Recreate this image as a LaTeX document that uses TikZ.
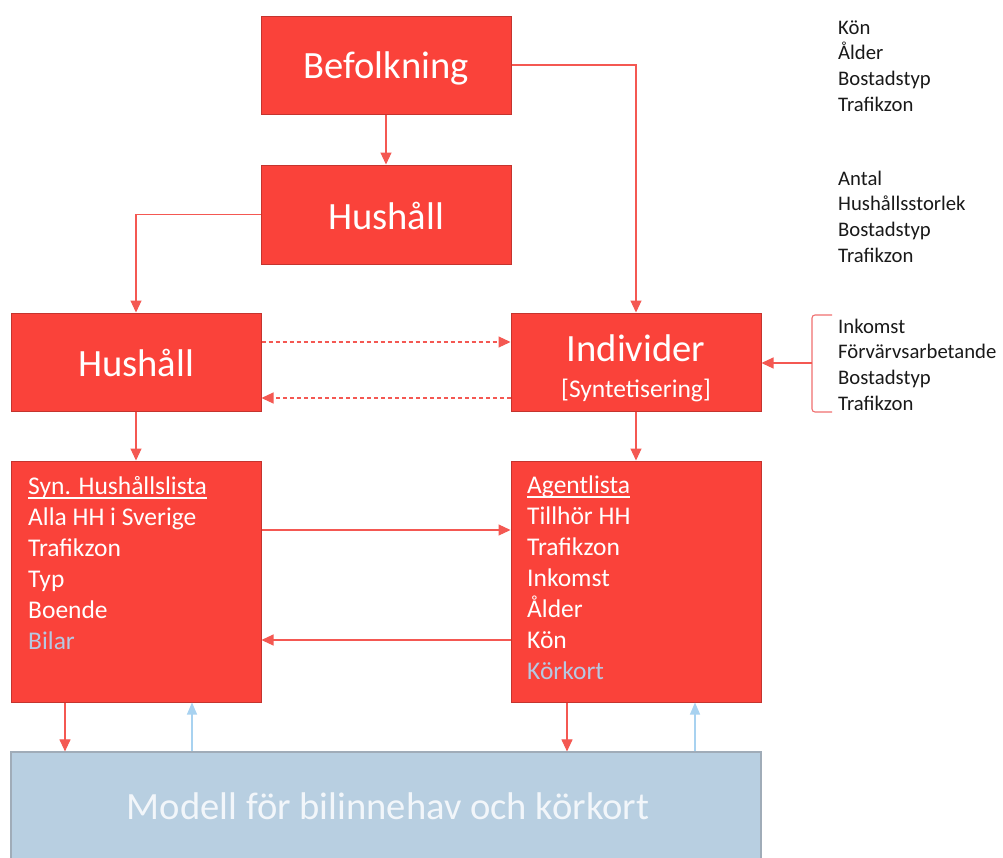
\documentclass[tikz,border=0pt]{standalone}
\usepackage{fontspec}
\setmainfont{Carlito}
\usetikzlibrary{arrows.meta}
\definecolor{boxred}{RGB}{250,66,58}
\definecolor{boxedge}{RGB}{196,52,46}
\definecolor{linered}{RGB}{244,88,82}
\definecolor{bracketred}{RGB}{240,112,112}
\definecolor{modelblue}{RGB}{184,207,225}
\definecolor{modeledge}{RGB}{160,172,184}
\definecolor{arrowblue}{RGB}{168,210,240}
\definecolor{softblue}{RGB}{182,200,226}
\definecolor{darktext}{RGB}{25,25,25}
\definecolor{modeltext}{RGB}{242,246,250}
\newcommand\myul[1]{\setbox0\hbox{#1}\rlap{\rule[-4.5pt]{\wd0}{1.4pt}}#1}
\begin{document}
\begin{tikzpicture}[x=1pt,y=-1pt,
  redbox/.style={draw=boxedge, line width=1pt, fill=boxred, rectangle, inner sep=0pt, minimum width=250pt},
  bluebox/.style={draw=modeledge, line width=1.2pt, fill=modelblue, rectangle, inner sep=0pt, minimum width=750pt},
  bigtext/.style={font=\fontsize{38.6}{46}\selectfont, text=white, inner sep=0pt, anchor=base},
  midtext/.style={font=\fontsize{25.5}{30}\selectfont, text=white, inner sep=0pt, anchor=base},
  listtext/.style={font=\fontsize{25.5}{31}\selectfont, text=white, inner sep=0pt, anchor=base west, align=left},
  sidetext/.style={font=\fontsize{20.7}{25.9}\selectfont, text=darktext, inner sep=0pt, anchor=base west, align=left},
  conn/.style={draw=linered, line width=1.1pt, -{Triangle[length=12pt,width=11pt]}},
  connblue/.style={draw=arrowblue, line width=1.1pt, -{Triangle[length=12pt,width=10pt]}},
  dashconn/.style={conn, dash pattern=on 4pt off 3pt}
]
\clip (0,0) rectangle (1003,857);
\fill[white] (0,0) rectangle (1003,857);

% boxes
\node[redbox, minimum height=98pt] (bef) at (386,65) {};
\node[bigtext] (beft) at (386,78) {Befolkning};

\node[redbox, minimum height=99pt] (hh1) at (386,214.5) {};
\node[bigtext] (hh1t) at (386,229) {Hushåll};

\node[redbox, minimum height=98pt] (hh2) at (136,362) {};
\node[bigtext] (hh2t) at (136,376) {Hushåll};

\node[redbox, minimum height=98pt] (ind) at (636,362) {};
\node[bigtext] (indt) at (636,361) {Individer};
\node[midtext] (inds) at (636,397) {[Syntetisering]};

\node[redbox, minimum height=241pt] (hhl) at (136,581.5) {};
% anchor base = baseline of the last line
\node[listtext] (hhlt) at (28,649) {\myul{Syn. Hushållslista}\\Alla HH i Sverige\\Trafikzon\\Typ\\Boende\\\textcolor{softblue}{Bilar}};

\node[redbox, minimum height=241pt] (agl) at (636,581.5) {};
\node[listtext] (aglt) at (527,679) {\myul{Agentlista}\\Tillhör HH\\Trafikzon\\Inkomst\\Ålder\\Kön\\\textcolor{softblue}{Körkort}};

\node[bluebox, minimum height=130pt] (model) at (386,817) {};
\node[bigtext, text=modeltext] (modelt) at (388,819) {Modell för bilinnehav och körkort};

% side texts (anchor at baseline of last line)
\node[sidetext] (side1) at (838,111.7) {Kön\\Ålder\\Bostadstyp\\Trafikzon};
\node[sidetext] (side2) at (838,262.7) {Antal\\Hushållsstorlek\\Bostadstyp\\Trafikzon};
\node[sidetext] (side3) at (838,410.7) {Inkomst\\Förvärvsarbetande\\Bostadstyp\\Trafikzon};

% bracket
\draw[bracketred, line width=1.1pt, rounded corners=3pt] (832,315) -- (812,315) -- (812,412) -- (832,412);
\coordinate (brm) at (812,363);
\draw[conn] (brm) -- (ind.east |- brm);

% connectors
\draw[conn] (bef) -- (hh1);
\draw[conn] (bef.east) -| (ind.north);
\draw[conn] (hh1.west) -| (hh2.north);
\draw[dashconn] ([yshift=20pt]hh2.east) -- ([yshift=20pt]ind.west);
\draw[dashconn] ([yshift=-36pt]ind.west) -- ([yshift=-36pt]hh2.east);
\draw[conn] (hh2) -- (hhl);
\draw[conn] (ind) -- (agl);
\draw[conn] ([yshift=51.5pt]hhl.east) -- ([yshift=51.5pt]agl.west);
\draw[conn] ([yshift=-58.5pt]agl.west) -- ([yshift=-58.5pt]hhl.east);
\draw[conn] ([xshift=-71pt]hhl.south) -- ([xshift=-71pt]hhl.south |- model.north);
\draw[connblue] ([xshift=56pt]hhl.south |- model.north) -- ([xshift=56pt]hhl.south);
\draw[conn] ([xshift=-69pt]agl.south) -- ([xshift=-69pt]agl.south |- model.north);
\draw[connblue] ([xshift=59pt]agl.south |- model.north) -- ([xshift=59pt]agl.south);
\end{tikzpicture}
\end{document}
